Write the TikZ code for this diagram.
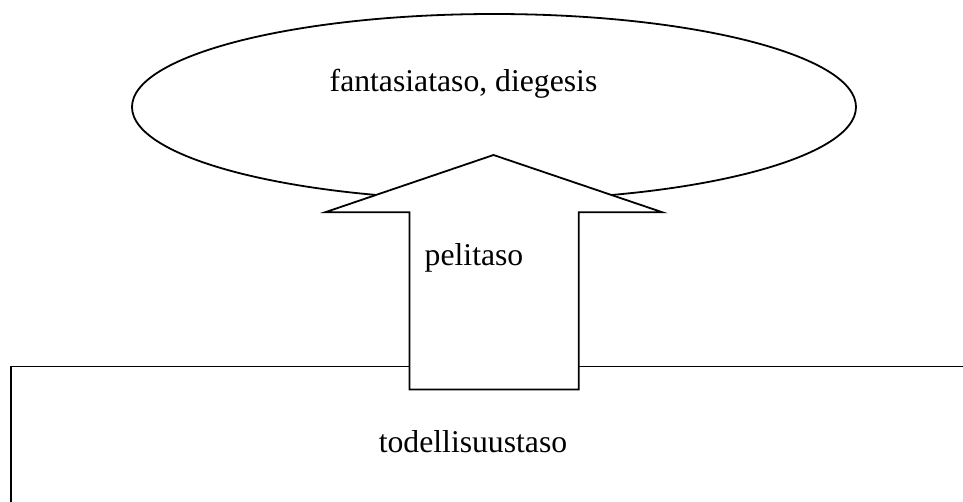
\documentclass[tikz,border=0pt]{standalone}
\usepackage{fontspec}
\setmainfont{Liberation Serif}
\usetikzlibrary{shapes.geometric}
\begin{document}
\begin{tikzpicture}[x=1pt,y=-1pt,
  outline/.style={draw=black,line width=1.8pt,line join=miter},
  label/.style={anchor=base,inner sep=0pt,font=\fontsize{31.7}{36}\selectfont}]
  \useasboundingbox (0,0) rectangle (963,501);
  \clip (0,0) rectangle (963,501);
  % reality level: open box running off the page
  \coordinate (boxbottom) at (11,520);
  \coordinate (boxcorner) at (11,366.5);
  \coordinate (boxright) at (990,366.5);
  \draw[outline] (boxbottom) -- (boxcorner) -- (boxright);
  % fantasy level
  \node[ellipse,outline,fill=white,minimum width=724,minimum height=186,inner sep=0pt] (fantasy) at (494,107) {};
  % game level: block arrow pointing up
  \draw[outline,fill=white] (409.5,389.5) -- (409.5,212.3) -- (325,212.3) -- (493.5,155)
    -- (662.5,212.3) -- (578.7,212.3) -- (578.7,389.5) -- cycle;
  \node[label] (fantasytext) at (463.5,91) {fantasiataso, diegesis};
  \node[label] (gametext) at (474,265) {pelitaso};
  \node[label] (realtext) at (473,452.7) {todellisuustaso};
\end{tikzpicture}
\end{document}
